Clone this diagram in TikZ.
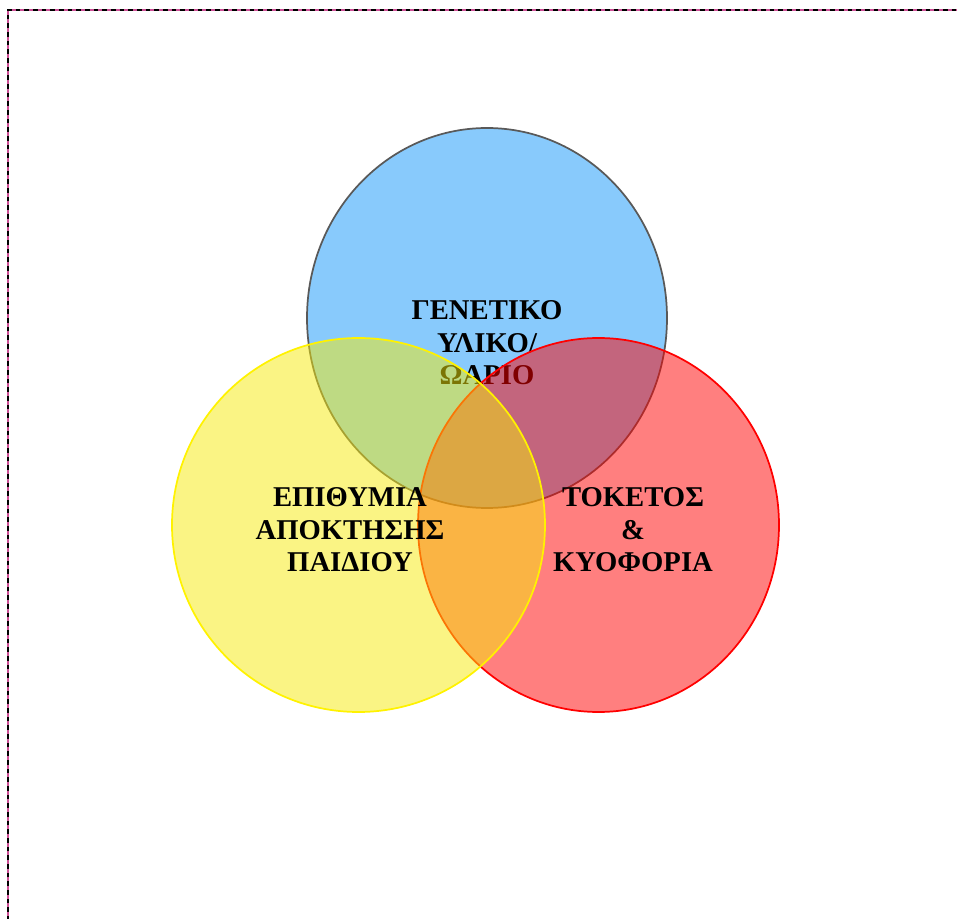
\documentclass[tikz,border=0pt]{standalone}
\usepackage{fontspec}
\setmainfont{Liberation Serif}
\usetikzlibrary{calc}
\definecolor{frameink}{RGB}{205,80,150}
\definecolor{geneblue}{RGB}{17,150,250}
\tikzset{
	vennlabel/.style={font=\bfseries\fontsize{21.5}{24.4}\selectfont, align=center, text=black},
}

\begin{document}
\begin{tikzpicture}[x=0.75pt, y=0.75pt]
		%%%%% START %%%%%
		\useasboundingbox (0, 0) rectangle (957, 918);
		
		% frame
		\draw[line width=1.5pt, color=frameink] (7.5, 908) -- (975, 908);
		\draw[line width=1.5pt, color=frameink] (7.5, 908) -- (7.5, -20);
		\draw[line width=1.5pt, color=black, dash pattern=on 3.5pt off 3pt] (7.5, -20) -- (7.5, 908) -- (975, 908);
		
		% circles
		\draw[line width=1.3pt, color=black!65, fill=geneblue, fill opacity=0.5] (487, 600) ellipse (180 and 190);
		\node[vennlabel] (gene) at (487, 575) {ΓΕΝΕΤΙΚΟ\\ΥΛΙΚΟ/\\ΩΑΡΙΟ};
		\draw[line width=1.3pt, color=red, fill=red, fill opacity=0.5] (598.5, 393) ellipse (180.5 and 187);
		\draw[line width=1.3pt, color=yellow, fill=yellow!96!black, fill opacity=0.5] (358.5, 393) ellipse (186.5 and 187);
		
		\node[vennlabel] (wish) at (350, 388) {ΕΠΙΘΥΜΙΑ\\ΑΠΟΚΤΗΣΗΣ\\ΠΑΙΔΙΟΥ};
		\node[vennlabel] (birth) at (633, 388) {ΤΟΚΕΤΟΣ\\\&\\ΚΥΟΦΟΡΙΑ};
		
		%%%%% END %%%%%
	\end{tikzpicture}
\end{document}
